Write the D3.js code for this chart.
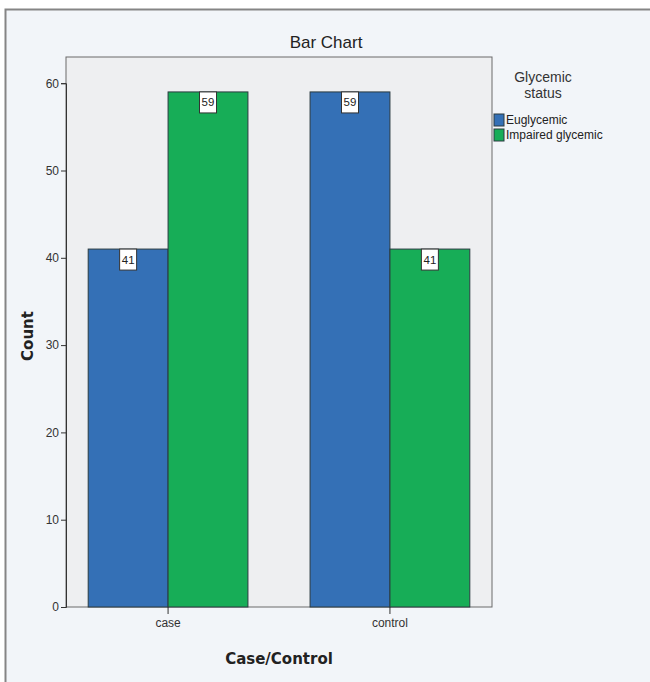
<!DOCTYPE html>
<html>
<head>
<meta charset="utf-8">
<script src="https://cdn.jsdelivr.net/npm/d3@7"></script>
<style>
  html, body { margin: 0; padding: 0; background: #ffffff; }
  svg { display: block; }
  text { font-family: "Liberation Sans Narrow", "Liberation Sans", Arial, sans-serif; }
</style>
</head>
<body>
<svg id="chart" width="650" height="682"></svg>
<script>
// Counts of glycemic status within each group
const groups = ["case", "control"];
const statuses = ["Euglycemic", "Impaired glycemic"];
const euglycemic = [41, 59];
const impaired = [59, 41];
const yTicks = [0, 10, 20, 30, 40, 50, 60];
const colors = ["#3470b6", "#17ad57"];

const series = [euglycemic, impaired];

const svg = d3.select("#chart");

// outer panel
svg.append("rect").attr("x", 5).attr("y", 9).attr("width", 645).attr("height", 673)
  .attr("fill", "#f2f5f9");
svg.append("path").attr("d", "M5.5,682 V9.5 H650")
  .attr("fill", "none").attr("stroke", "#858585").attr("stroke-width", 2);

const plot = { left: 66, right: 492, top: 57, bottom: 607 };

const x0 = d3.scaleBand().domain(groups).range([plot.left, plot.right]).paddingInner(0.28).paddingOuter(0.1);
const x1 = d3.scaleBand().domain(statuses).range([0, x0.bandwidth()]);
const y = d3.scaleLinear().domain([0, 60]).range([plot.bottom, plot.bottom - 6 * 87.3]);

// plot background
svg.append("rect")
  .attr("x", plot.left).attr("y", plot.top)
  .attr("width", plot.right - plot.left).attr("height", plot.bottom - plot.top)
  .attr("fill", "#eeeff1").attr("stroke", "#6a6a6a").attr("stroke-width", 1);

// bars
const g = svg.append("g");
groups.forEach((grp, gi) => {
  statuses.forEach((st, si) => {
    const v = series[si][gi];
    const bx = x0(grp) + x1(st);
    g.append("rect")
      .attr("x", bx).attr("y", y(v))
      .attr("width", x1.bandwidth()).attr("height", y(0) - y(v))
      .attr("fill", colors[si]).attr("stroke", "#2b3a40").attr("stroke-width", 1);
    // value label box
    const cx = bx + x1.bandwidth() / 2;
    const lab = g.append("g").attr("transform", `translate(${cx},${y(v)})`);
    lab.append("rect").attr("x", -8.5).attr("y", 0).attr("width", 17).attr("height", 21)
      .attr("fill", "#ffffff").attr("stroke", "#333333").attr("stroke-width", 1);
    lab.append("text").attr("x", 0).attr("y", 14.5).attr("text-anchor", "middle")
      .attr("font-size", 11.5).attr("fill", "#222").text(v);
  });
});

// y axis
const yAxis = svg.append("g").attr("transform", `translate(${plot.left},0)`)
  .call(d3.axisLeft(y).tickValues(yTicks).tickSize(5).tickPadding(2).tickFormat(d3.format("d")));
yAxis.select(".domain").attr("stroke", "#333");
yAxis.selectAll(".tick line").attr("stroke", "#333");
yAxis.selectAll(".tick text").attr("font-size", 12).attr("fill", "#333")
  .style("font-family", "'Liberation Sans Narrow', 'Liberation Sans', Arial, sans-serif");

// x axis
const xAxis = svg.append("g").attr("transform", `translate(0,${plot.bottom})`)
  .call(d3.axisBottom(x0).tickSize(7).tickPadding(4).tickSizeOuter(0));
xAxis.select(".domain").remove();
xAxis.selectAll(".tick line").attr("stroke", "#333");
xAxis.selectAll(".tick text").attr("font-size", 12).attr("fill", "#333")
  .style("font-family", "'Liberation Sans Narrow', 'Liberation Sans', Arial, sans-serif");

// titles
svg.append("text").attr("x", 326).attr("y", 48).attr("text-anchor", "middle")
  .attr("font-size", 17).attr("fill", "#222").text("Bar Chart");
svg.append("text").attr("x", (plot.left + plot.right) / 2).attr("y", 664)
  .attr("text-anchor", "middle").attr("font-size", 15).attr("font-weight", "bold")
  .style("font-family", "'DejaVu Sans', Verdana, sans-serif")
  .attr("fill", "#222").text("Case/Control");
svg.append("text").attr("transform", "translate(33,336) rotate(-90)")
  .attr("text-anchor", "middle").attr("font-size", 15).attr("font-weight", "bold")
  .style("font-family", "'DejaVu Sans', Verdana, sans-serif")
  .attr("fill", "#222").text("Count");

// legend
const leg = svg.append("g");
leg.append("text").attr("x", 543).attr("y", 82).attr("text-anchor", "middle")
  .attr("font-size", 14).attr("fill", "#333").text("Glycemic");
leg.append("text").attr("x", 543).attr("y", 98).attr("text-anchor", "middle")
  .attr("font-size", 14).attr("fill", "#333").text("status");
statuses.forEach((st, i) => {
  const ly = 114 + i * 15;
  leg.append("rect").attr("x", 494).attr("y", ly).attr("width", 10).attr("height", 12)
    .attr("fill", colors[i]).attr("stroke", "#2b3a40").attr("stroke-width", 1);
  leg.append("text").attr("x", 506).attr("y", ly + 10).attr("font-size", 12)
    .attr("fill", "#222").text(st);
});
</script>
</body>
</html>
